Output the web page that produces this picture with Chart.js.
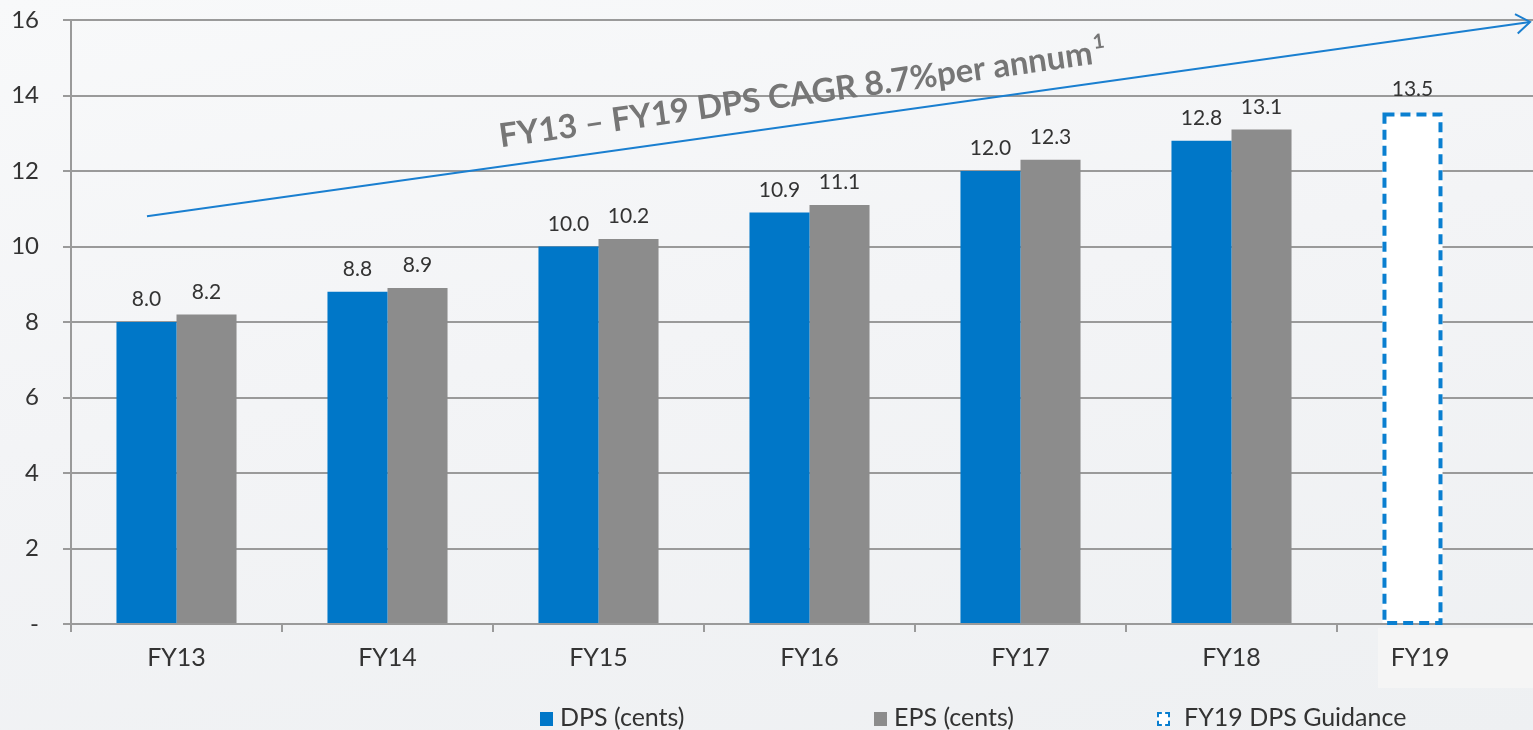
<!DOCTYPE html>
<html>
<head>
<meta charset="utf-8">
<script src="https://cdn.jsdelivr.net/npm/chart.js@4.4.1/dist/chart.umd.min.js"></script>
<style>
  html, body { margin: 0; padding: 0; width: 1533px; height: 730px; overflow: hidden; }
  body { background: linear-gradient(170deg, #f8f9fa 0%, #f3f4f6 45%, #eef0f2 100%); font-family: Lato, "Open Sans", sans-serif; }
  #wrap { position: absolute; left: 0; top: 0; width: 1560px; height: 730px; }
  #fybox { position: absolute; left: 1378px; top: 628px; width: 155px; height: 60px; background: #f5f5f5; }
  #legend { position: absolute; left: 0; top: 0; width: 1533px; height: 730px; pointer-events: none; }
  .li { position: absolute; top: 701px; font-size: 25px; color: #333; white-space: nowrap; line-height: 30px; }
  .sw { display: inline-block; width: 13px; height: 14px; vertical-align: 0px; margin-right: 7px; }
</style>
</head>
<body>
<div id="fybox"></div>
<div id="wrap"><canvas id="c" width="1560" height="730"></canvas></div>
<div id="legend">
  <div class="li" style="left:540px"><span class="sw" style="background:#0077c8"></span>DPS (cents)</div>
  <div class="li" style="left:874px"><span class="sw" style="background:#8c8c8c"></span>EPS (cents)</div>
  <div class="li" style="left:1157px"><span class="sw" style="width:9px;height:10px;border:2px dashed #0a7fd0;background:#fff;margin-right:14px"></span>FY19 DPS Guidance</div>
</div>
<script>
const categories = ['FY13', 'FY14', 'FY15', 'FY16', 'FY17', 'FY18', 'FY19'];
const dpsValues = [8.0, 8.8, 10.0, 10.9, 12.0, 12.8, null];
const epsValues = [8.2, 8.9, 10.2, 11.1, 12.3, 13.1, null];
const guidanceValues = [null, null, null, null, null, null, 13.5];
const seriesNames = ['DPS (cents)', 'EPS (cents)', 'FY19 DPS Guidance'];
const yTickValues = [0, 2, 4, 6, 8, 10, 12, 14, 16];
const arrowFrom = { x: -0.14, y: 10.8 };
const arrowTo = { x: 6.415, y: 15.95 };
const cagrText = 'FY13 \u2013 FY19 DPS CAGR 8.7%per annum';
const cagrSup = '1';

const FONT = 'Lato, "Open Sans", sans-serif';

const overlay = {
  id: 'overlay',
  afterDatasetsDraw(chart) {
    const ctx = chart.ctx;
    const gMeta = chart.getDatasetMeta(2);
    gMeta.data.forEach((el, i) => {
      if (guidanceValues[i] == null) return;
      const p = el.getProps(['x', 'y', 'base', 'width'], true);
      ctx.save();
      ctx.setLineDash([10, 6]);
      ctx.lineWidth = 4;
      ctx.strokeStyle = '#0a7fd0';
      ctx.strokeRect(p.x - p.width / 2 + 2, p.y, p.width - 4, p.base - p.y);
      ctx.restore();
    });
    ctx.save();
    ctx.font = '21px ' + FONT;
    ctx.fillStyle = '#333';
    ctx.textAlign = 'center';
    ctx.textBaseline = 'bottom';
    [dpsValues, epsValues, guidanceValues].forEach((vals, di) => {
      const meta = chart.getDatasetMeta(di);
      meta.data.forEach((el, i) => {
        if (vals[i] == null) return;
        const p = el.getProps(['x', 'y'], true);
        ctx.fillText(vals[i].toFixed(1), p.x, p.y - (di === 2 ? 15 : 12));
      });
    });
    ctx.restore();
  },
  afterDraw(chart) {
    const ctx = chart.ctx;
    const xs = chart.scales.x, ys = chart.scales.y;
    const x1 = xs.getPixelForValue(arrowFrom.x), y1 = ys.getPixelForValue(arrowFrom.y);
    const x2 = xs.getPixelForValue(arrowTo.x), y2 = ys.getPixelForValue(arrowTo.y);
    const ang = Math.atan2(y2 - y1, x2 - x1);
    ctx.save();
    ctx.strokeStyle = '#1a7fd0';
    ctx.lineWidth = 2;
    ctx.beginPath();
    ctx.moveTo(x1, y1);
    ctx.lineTo(x2, y2);
    ctx.stroke();
    const L = 17, a = 0.62;
    ctx.beginPath();
    ctx.moveTo(x2 - L * Math.cos(ang - a), y2 - L * Math.sin(ang - a));
    ctx.lineTo(x2, y2);
    ctx.lineTo(x2 - L * Math.cos(ang + a), y2 - L * Math.sin(ang + a));
    ctx.stroke();
    const t = 0.477;
    const px = x1 + (x2 - x1) * t, py = y1 + (y2 - y1) * t;
    ctx.translate(px, py);
    ctx.rotate(ang);
    ctx.fillStyle = '#767676';
    ctx.textBaseline = 'alphabetic';
    ctx.textAlign = 'left';
    ctx.font = 'bold 33px ' + FONT;
    const w1 = ctx.measureText(cagrText).width;
    ctx.font = 'bold 20px ' + FONT;
    const w2 = ctx.measureText(cagrSup).width;
    const start = -(w1 + w2 + 2) / 2;
    ctx.font = 'bold 33px ' + FONT;
    ctx.fillText(cagrText, start, -19);
    ctx.font = 'bold 20px ' + FONT;
    ctx.fillText(cagrSup, start + w1 + 2, -34);
    ctx.restore();
  }
};

new Chart(document.getElementById('c'), {
  type: 'bar',
  data: {
    labels: categories,
    datasets: [
      { label: seriesNames[0], data: dpsValues, backgroundColor: '#0077c8', stack: 'dps', borderWidth: 0 },
      { label: seriesNames[1], data: epsValues, backgroundColor: '#8c8c8c', stack: 'eps', borderWidth: 0 },
      { label: seriesNames[2], data: guidanceValues, backgroundColor: '#ffffff', stack: 'dps', borderWidth: 0 }
    ]
  },
  options: {
    responsive: false,
    animation: false,
    devicePixelRatio: 1,
    categoryPercentage: 0.569,
    barPercentage: 1.0,
    layout: { padding: { top: 20, right: 12, bottom: 0, left: 0 } },
    plugins: { legend: { display: false }, tooltip: { enabled: false } },
    scales: {
      x: {
        stacked: true,
        grid: { display: true, drawOnChartArea: false, drawTicks: true, tickLength: 8, color: '#9a9a9a', lineWidth: 2, offset: true },
        border: { display: true, color: '#9a9a9a', width: 2 },
        ticks: {
          font: { family: FONT, size: 25 }, color: '#333', padding: 11,
          callback: function (v, i) { return i === categories.length - 1 ? categories[i] + '\u00A0'.repeat(7) : categories[i]; }
        },
        afterFit(s) { s.height = 106; s.paddingLeft = 0; s.paddingRight = 0; }
      },
      y: {
        stacked: true,
        min: 0, max: 16,
        afterBuildTicks(s) { s.ticks = yTickValues.map(v => ({ value: v })); },
        grid: { color: '#9a9a9a', lineWidth: 2, tickLength: 8, drawTicks: true },
        border: { display: true, color: '#9a9a9a', width: 2 },
        ticks: {
          font: { family: FONT, size: 24 }, color: '#333', padding: 24,
          callback: v => (v === 0 ? '-' : String(v))
        },
        afterFit(s) { s.width = 71; s.paddingTop = 0; s.paddingBottom = 0; }
      }
    }
  },
  plugins: [overlay]
});
</script>
</body>
</html>
